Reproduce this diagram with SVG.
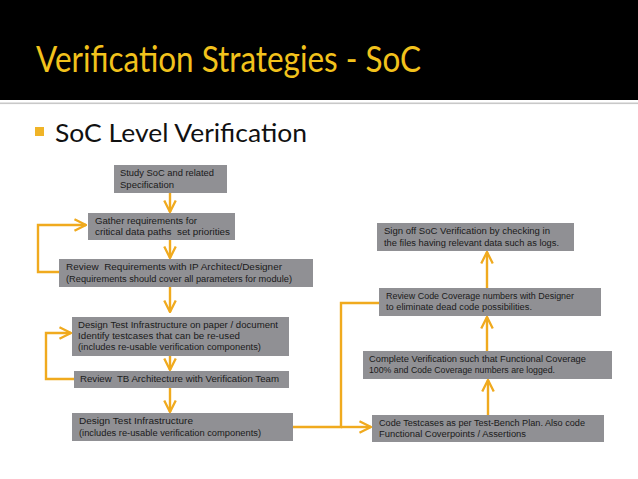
<svg xmlns="http://www.w3.org/2000/svg" width="638" height="479" viewBox="0 0 638 479" xml:space="preserve">
<defs>
<style>
.box{fill:#909094;}
.t{font-family:"Liberation Sans",Arial,sans-serif;font-size:8.5px;fill:#1a1a1a;white-space:pre;}
.c{fill:none;stroke:#F0AA1E;stroke-width:2.4;}
.a{marker-end:url(#chev);}
</style>
<marker id="chev" viewBox="0 0 10 10" refX="9" refY="5" markerWidth="6" markerHeight="6" markerUnits="strokeWidth" orient="auto">
<path d="M1,1 L9,5 L1,9" fill="none" stroke="#F0AA1E" stroke-width="1.6"/>
</marker>
</defs>
<rect x="0" y="0" width="638" height="479" fill="#ffffff"/>
<rect x="0" y="0" width="638" height="100" fill="#000000"/>
<rect x="0" y="102.5" width="638" height="1.6" fill="#C8C8C8"/>
<text x="36" y="72" font-family="Lato,'Open Sans',sans-serif" font-size="37" fill="#F2C21C" textLength="385" lengthAdjust="spacingAndGlyphs">Verification Strategies - SoC</text>
<rect x="35" y="127" width="9" height="9" fill="#F0B428"/>
<text x="55" y="142" font-family="Lato,'Open Sans',sans-serif" font-size="25" fill="#111111" textLength="252" lengthAdjust="spacingAndGlyphs">SoC Level Verification</text>

<g id="connectors">
<path class="c a" d="M170,193 V212"/>
<path class="c a" d="M170,240 V258"/>
<path class="c a" d="M59,272 H38 V225 H86"/>
<path class="c a" d="M170,287 V312"/>
<path class="c a" d="M170,342 V370"/>
<path class="c a" d="M74,379 H46 V333 H71"/>
<path class="c a" d="M170,388 V412"/>
<path class="c" d="M293,427 H341 V303 H379"/>
<path class="c a" d="M341,427 H371"/>
<path class="c a" d="M488,415 V380"/>
<path class="c a" d="M487,351 V317"/>
<path class="c a" d="M487,288 V252"/>
</g>

<g id="n1"><rect class="box" x="114" y="165" width="113" height="28"/>
<text class="t" x="120" y="176" textLength="94" lengthAdjust="spacingAndGlyphs">Study SoC and related</text>
<text class="t" x="120" y="188" textLength="54" lengthAdjust="spacingAndGlyphs">Specification</text></g>

<g id="n2"><rect class="box" x="88" y="213" width="147" height="27"/>
<text class="t" x="95" y="224" textLength="102" lengthAdjust="spacingAndGlyphs">Gather requirements for</text>
<text class="t" x="95" y="235" textLength="135" lengthAdjust="spacingAndGlyphs">critical data paths  set priorities</text></g>

<g id="n3"><rect class="box" x="59" y="259" width="254" height="28"/>
<text class="t" x="66" y="270" textLength="216" lengthAdjust="spacingAndGlyphs">Review  Requirements with IP Architect/Designer</text>
<text class="t" x="66" y="282" textLength="226" lengthAdjust="spacingAndGlyphs">(Requirements should cover all parameters for module)</text></g>

<g id="n4"><rect class="box" x="72" y="317" width="217" height="39"/>
<text class="t" x="78" y="328" textLength="200" lengthAdjust="spacingAndGlyphs">Design Test Infrastructure on paper / document</text>
<text class="t" x="78" y="339" textLength="162" lengthAdjust="spacingAndGlyphs">Identify testcases that can be re-used</text>
<text class="t" x="78" y="350" textLength="183" lengthAdjust="spacingAndGlyphs">(includes re-usable verification components)</text></g>

<g id="n5"><rect class="box" x="74" y="371" width="215" height="17"/>
<text class="t" x="80" y="382" textLength="199" lengthAdjust="spacingAndGlyphs">Review  TB Architecture with Verification Team</text></g>

<g id="n6"><rect class="box" x="72" y="413" width="221" height="28"/>
<text class="t" x="79" y="424" textLength="114" lengthAdjust="spacingAndGlyphs">Design Test Infrastructure</text>
<text class="t" x="79" y="436" textLength="182" lengthAdjust="spacingAndGlyphs">(includes re-usable verification components)</text></g>

<g id="n7"><rect class="box" x="372" y="415" width="232" height="27"/>
<text class="t" x="379" y="426" textLength="206" lengthAdjust="spacingAndGlyphs">Code Testcases as per Test-Bench Plan. Also code</text>
<text class="t" x="379" y="437" textLength="147" lengthAdjust="spacingAndGlyphs">Functional Coverpoints / Assertions</text></g>

<g id="n8"><rect class="box" x="363" y="351" width="249" height="28"/>
<text class="t" x="369" y="362" textLength="217" lengthAdjust="spacingAndGlyphs">Complete Verification such that Functional Coverage</text>
<text class="t" x="369" y="373" textLength="186" lengthAdjust="spacingAndGlyphs">100% and Code Coverage numbers are logged.</text></g>

<g id="n9"><rect class="box" x="379" y="288" width="222" height="28"/>
<text class="t" x="386" y="299" textLength="188" lengthAdjust="spacingAndGlyphs">Review Code Coverage numbers with Designer</text>
<text class="t" x="386" y="310" textLength="146" lengthAdjust="spacingAndGlyphs">to eliminate dead code possibilities.</text></g>

<g id="n10"><rect class="box" x="377" y="223" width="197" height="28"/>
<text class="t" x="384" y="234" textLength="166" lengthAdjust="spacingAndGlyphs">Sign off SoC Verification by checking in</text>
<text class="t" x="384" y="246" textLength="175" lengthAdjust="spacingAndGlyphs">the files having relevant data such as logs.</text></g>
</svg>
